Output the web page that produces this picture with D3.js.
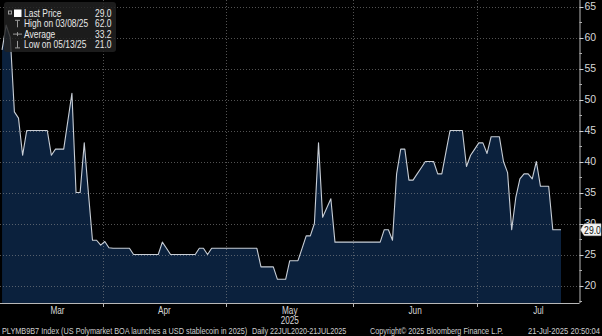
<!DOCTYPE html>
<html>
<head>
<meta charset="utf-8">
<script src="https://cdn.jsdelivr.net/npm/d3@7"></script>
<style>
  html, body { margin: 0; padding: 0; background: #000; }
  svg { display: block; }
  text { font-family: "Liberation Sans", Arial, "Helvetica", sans-serif; }
</style>
</head>
<body>
<svg id="chart" width="602" height="336"></svg>
<script>
// Daily closing values of PLYMB9B7 Index, one per calendar day from 2025-03-07 to 2025-07-21
const seriesStart = "2025-03-07";
const priceValues = [
  58, 62, 60, 48, 47, 41, 45, 45, 45, 45,
  45, 45, 41, 42, 42, 42, 46.5, 51, 35, 35,
  43, 35, 27.3, 27.3, 26.5, 27.1, 26.1, 26, 26, 26,
  26, 26, 25, 25, 25, 25, 25, 25, 25, 27,
  26, 25, 25, 25, 25, 25, 25, 25, 26, 26,
  25, 26, 26, 26, 26, 26, 26, 26, 26, 26,
  26, 26, 26, 23, 23, 23, 23, 21, 21, 21,
  24, 24, 24, 26, 28, 28, 30, 43, 31, 32.5,
  34, 27, 27, 27, 27, 27, 27, 27, 27, 27,
  27, 27, 27, 29, 29, 27.3, 38, 42, 42, 37,
  37, 38, 39, 40, 40, 40, 38, 38, 41.5, 45,
  45, 45, 45, 39.2, 41, 42, 43, 43, 41.3, 44,
  44, 44, 40, 38.2, 29, 34.2, 37.2, 38, 38, 37.2,
  40, 36, 36, 36, 29, 29, 29
];

// Axis ticks
const yTickValues = [20, 25, 30, 35, 40, 45, 50, 55, 60, 65];
const yMinorValues = [17.5, 22.5, 27.5, 32.5, 37.5, 42.5, 47.5, 52.5, 57.5, 62.5];
const monthBoundaries = ["2025-04-01", "2025-05-01", "2025-06-01", "2025-07-01"];
const monthLabels = ["Mar", "Apr", "May", "Jun", "Jul"];
const monthLabelDates = ["2025-03-21", "2025-04-16", "2025-05-16T12:00", "2025-06-16", "2025-07-16"];
const yearLabel = "2025";

// Footer texts
const footerTexts = [
  "PLYMB9B7 Index (US Polymarket BOA launches a USD stablecoin in 2025)",
  "Daily 22JUL2020-21JUL2025",
  "Copyright\u00A9 2025 Bloomberg Finance L.P.",
  "21-Jul-2025 20:50:04"
];

const parse = s => new Date(s.length > 10 ? s + "Z" : s + "T00:00Z");
const dayMs = 86400000;
const t0 = parse(seriesStart).getTime();
const data = priceValues.map((v, i) => ({ date: new Date(t0 + i * dayMs), value: v }));

const svg = d3.select("#chart");
const W = 602, H = 336;
const plot = { left: 0, right: 579.5, top: 0, bottom: 303 };
const NARROW = 0.82; // condensed text, horizontally squeezed

// place a text at (x, y) drawn in a condensed width
const narrow = (sel, fx, fy) =>
  sel.attr("transform", (d, i) => `translate(${fx(d, i)},${fy(d, i)}) scale(${NARROW},1)`);

svg.append("rect").attr("width", W).attr("height", H).attr("fill", "#000");

const x = d3.scaleUtc()
  .domain([parse("2025-03-07"), parse("2025-07-26")])
  .range([plot.left, plot.right]);
const y = d3.scaleLinear().domain([20, 65]).range([285.5, 6.5]);

// points sit at the middle of each day
const xPt = d => x(new Date(d.date.getTime() + dayMs / 2));

// area under the price line
const area = d3.area().x(xPt).y0(plot.bottom).y1(d => y(d.value));
const line = d3.line().x(xPt).y(d => y(d.value));

svg.append("path").datum(data).attr("d", area).attr("fill", "#0b213d");

// grid
const grid = svg.append("g");
grid.selectAll("line.h").data(yTickValues).join("line")
  .attr("x1", plot.left).attr("x2", plot.right)
  .attr("y1", d => Math.round(y(d)) + 0.5).attr("y2", d => Math.round(y(d)) + 0.5)
  .attr("stroke", "rgba(150,150,150,0.55)").attr("stroke-dasharray", "1,2");
grid.selectAll("line.v").data(monthBoundaries).join("line")
  .attr("x1", d => Math.round(x(parse(d))) + 0.5).attr("x2", d => Math.round(x(parse(d))) + 0.5)
  .attr("y1", plot.top).attr("y2", plot.bottom)
  .attr("stroke", "rgba(150,150,150,0.55)").attr("stroke-dasharray", "1,2");

svg.append("path").datum(data).attr("d", line)
  .attr("fill", "none").attr("stroke", "#c8ced6").attr("stroke-width", 1.1)
  .attr("stroke-linejoin", "round");

// bottom axis
svg.append("line").attr("x1", plot.left).attr("x2", plot.right)
  .attr("y1", plot.bottom + 0.5).attr("y2", plot.bottom + 0.5)
  .attr("stroke", "#b8b8b8");
svg.append("g").selectAll("line").data(monthBoundaries).join("line")
  .attr("x1", d => Math.round(x(parse(d))) + 0.5).attr("x2", d => Math.round(x(parse(d))) + 0.5)
  .attr("y1", plot.bottom).attr("y2", plot.bottom + 4)
  .attr("stroke", "#b8b8b8");
svg.append("g").selectAll("text").data(monthLabels).join("text")
  .call(narrow, (d, i) => x(parse(monthLabelDates[i])), () => 313.5)
  .attr("text-anchor", "middle")
  .attr("font-size", 10).attr("fill", "#d8d8d8").text(d => d);
svg.append("text").datum(yearLabel)
  .call(narrow, () => x(parse(monthLabelDates[2])), () => 323.5)
  .attr("text-anchor", "middle").attr("font-size", 10).attr("fill", "#d8d8d8").text(d => d);

// right axis
const yAxis = svg.append("g");
yAxis.append("line").attr("x1", plot.right + 0.5).attr("x2", plot.right + 0.5)
  .attr("y1", plot.top).attr("y2", plot.bottom).attr("stroke", "#b8b8b8");
yAxis.selectAll("line.maj").data(yTickValues).join("line").attr("class", "maj")
  .attr("x1", plot.right).attr("x2", plot.right + 4)
  .attr("y1", d => Math.round(y(d)) + 0.5).attr("y2", d => Math.round(y(d)) + 0.5)
  .attr("stroke", "#d0d0d0");
yAxis.selectAll("line.min").data(yMinorValues).join("line").attr("class", "min")
  .attr("x1", plot.right).attr("x2", plot.right + 2.5)
  .attr("y1", d => Math.round(y(d)) + 0.5).attr("y2", d => Math.round(y(d)) + 0.5)
  .attr("stroke", "#b0b0b0");
yAxis.selectAll("text").data(yTickValues).join("text")
  .attr("x", plot.right + 5).attr("y", d => y(d) + 3.6)
  .attr("font-size", 10.5).attr("fill", "#d8d8d8").text(d => d);

// last price tag, drawn over the axis label it sits on
const last = data[data.length - 1];
const ly = y(last.value);
const tag = svg.append("g");
tag.append("path")
  .attr("d", `M${plot.right + 1},${ly} L${plot.right + 4},${ly - 5} Q${plot.right + 4},${ly - 6} ${plot.right + 6},${ly - 6} L${W - 1},${ly - 6} L${W - 1},${ly + 6} L${plot.right + 6},${ly + 6} Q${plot.right + 4},${ly + 6} ${plot.right + 4},${ly + 5} Z`)
  .attr("fill", "#f2f2f2").attr("stroke", "#bbb").attr("stroke-width", 0.5);
tag.append("text").datum(d3.format(".1f")(last.value))
  .call(narrow, () => plot.right + 13, () => ly + 3.8)
  .attr("text-anchor", "middle").attr("font-size", 10.5).attr("fill", "#111")
  .text(d => d);

// legend
const fmtDate = d3.utcFormat("%m/%d/%y");
const hi = data.reduce((a, b) => (b.value > a.value ? b : a));
const lo = data.reduce((a, b) => (b.value < a.value ? b : a));
const avg = d3.mean(priceValues);
const legendRows = [
  { label: "Last Price", value: last.value },
  { label: `High on ${fmtDate(hi.date)}`, value: hi.value },
  { label: "Average", value: avg },
  { label: `Low on ${fmtDate(lo.date)}`, value: lo.value }
];
const lg = svg.append("g");
lg.append("rect").attr("x", 4).attr("y", 2).attr("width", 112).attr("height", 50).attr("rx", 3)
  .attr("fill", "rgba(34,34,34,0.82)");
const rowY = i => 13.5 + i * 10.3;
lg.selectAll("text.lab").data(legendRows).join("text").attr("class", "lab")
  .call(narrow, () => 24, (d, i) => rowY(i) + 3.6)
  .attr("font-size", 10.3).attr("fill", "#e8e8e8").text(d => d.label);
lg.selectAll("text.val").data(legendRows).join("text").attr("class", "val")
  .call(narrow, () => 111.5, (d, i) => rowY(i) + 3.6)
  .attr("text-anchor", "end")
  .attr("font-size", 10.3).attr("fill", "#e8e8e8").text(d => d3.format(".1f")(d.value));
// legend symbols
const ic = "#9a9a9a";
lg.append("rect").attr("x", 8.5).attr("y", rowY(0) - 2.5).attr("width", 3).attr("height", 3)
  .attr("fill", "none").attr("stroke", ic);
lg.append("rect").attr("x", 14).attr("y", rowY(0) - 4).attr("width", 7.5).attr("height", 7.5).attr("fill", "#fff");
lg.append("path").attr("d", `M15,${rowY(1) - 3.5}h5M17.5,${rowY(1) - 3.5}v7`).attr("stroke", ic).attr("fill", "none");
lg.append("path").attr("d", `M13,${rowY(2)}h9M17.5,${rowY(2) - 2}v4`).attr("stroke", ic).attr("fill", "none");
lg.append("path").attr("d", `M17.5,${rowY(3) - 3.5}v7M15,${rowY(3) + 3.5}h5`).attr("stroke", ic).attr("fill", "none");

// footer: each piece squeezed horizontally to fill its slot
const footerSpans = [[2, 247], [252, 346], [370, 503], [528, 600]];
svg.append("g").selectAll("text").data(footerTexts).join("text")
  .attr("font-size", 8.4).attr("fill", "#cfcfcf")
  .text(d => d)
  .each(function (d, i) {
    const natural = this.getComputedTextLength();
    const [a, b] = footerSpans[i];
    const sx = Math.min(1, (b - a) / natural);
    d3.select(this).attr("transform", `translate(${a},333.5) scale(${sx},1)`);
  });
</script>
</body>
</html>
